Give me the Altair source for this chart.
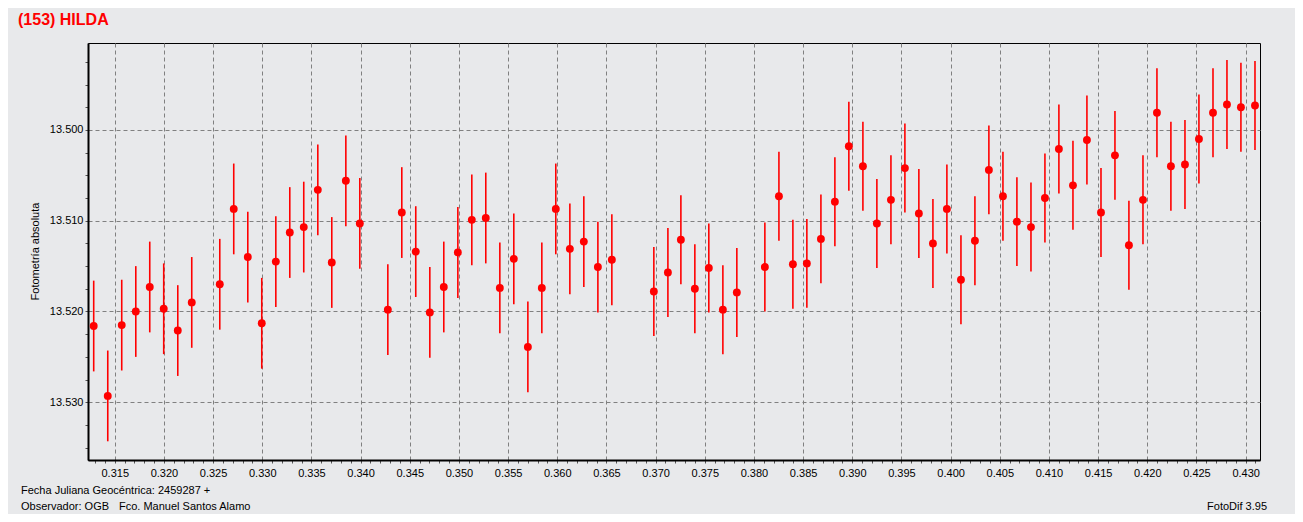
import altair as alt
import pandas as pd

# Fractional Julian date (JD - 2459287)
jd = [0.31286, 0.31429, 0.31571, 0.31714, 0.31856, 0.31998, 0.32141, 0.32283,
      0.32568, 0.32710, 0.32853, 0.32995, 0.33138, 0.33280, 0.33422, 0.33565,
      0.33707, 0.33850, 0.33992, 0.34277, 0.34419, 0.34561, 0.34704, 0.34846,
      0.34989, 0.35131, 0.35273, 0.35416, 0.35558, 0.35701, 0.35843, 0.35985,
      0.36128, 0.36270, 0.36413, 0.36555, 0.36982, 0.37125, 0.37257, 0.37399,
      0.37541, 0.37684, 0.37826, 0.38111, 0.38254, 0.38396, 0.38538, 0.38681,
      0.38823, 0.38965, 0.39108, 0.39250, 0.39393, 0.39535, 0.39677, 0.39820,
      0.39962, 0.40105, 0.40247, 0.40389, 0.40532, 0.40674, 0.40817, 0.40959,
      0.41101, 0.41244, 0.41386, 0.41529, 0.41671, 0.41813, 0.41956, 0.42098,
      0.42240, 0.42383, 0.42525, 0.42668, 0.42810, 0.42952, 0.43095]

# Absolute photometry (magnitude)
mag = [13.5216, 13.5293, 13.5215, 13.5200, 13.5173, 13.5197, 13.5221, 13.5190,
       13.5170, 13.5087, 13.5140, 13.5213, 13.5145, 13.5113, 13.5107, 13.5066,
       13.5146, 13.5056, 13.5103, 13.5198, 13.5091, 13.5134, 13.5201, 13.5173,
       13.5135, 13.5099, 13.5097, 13.5174, 13.5142, 13.5239, 13.5174, 13.5087,
       13.5131, 13.5123, 13.5151, 13.5143, 13.5178, 13.5157, 13.5121, 13.5175,
       13.5152, 13.5198, 13.5179, 13.5151, 13.5073, 13.5148, 13.5147, 13.5120,
       13.5079, 13.5018, 13.5040, 13.5103, 13.5077, 13.5042, 13.5092, 13.5125,
       13.5087, 13.5165, 13.5122, 13.5044, 13.5073, 13.5101, 13.5107, 13.5075,
       13.5021, 13.5061, 13.5011, 13.5091, 13.5028, 13.5127, 13.5077, 13.4981,
       13.5040, 13.5038, 13.5010, 13.4981, 13.4972, 13.4975, 13.4973]

# Error (half length of each bar)
err = [0.0050] * 36 + [0.0049] * 43

x_ticks = [round(0.313 + i * 0.001, 3) for i in range(119)]
y_ticks = [round(13.4925 + i * 0.0025, 4) for i in range(18)]

title_text = "(153) HILDA"
ytitle_text = "Fotometría absoluta"
foot1 = "Fecha Juliana Geocéntrica: 2459287 +"
foot2a = "Observador: OGB"
foot2b = "Fco. Manuel Santos Alamo"
foot3 = "FotoDif 3.95"

df = pd.DataFrame({"jd": jd, "mag": mag, "err": err})
df["lo"] = df["mag"] - df["err"]
df["hi"] = df["mag"] + df["err"]

FONT = "Liberation Sans"
BG = "#e8e9eb"
W, H = 1172, 417

xs = alt.Scale(domain=[0.31228, 0.43146], nice=False, zero=False)
ys = alt.Scale(domain=[13.49042, 13.53636], nice=False, zero=False, reverse=True)

xmaj = "abs(datum.value*200 - round(datum.value*200)) < 0.05"
ymaj = "abs(datum.value*100 - round(datum.value*100)) < 0.05"

xaxis = alt.Axis(
    values=x_ticks, title=None,
    labelExpr=f"{xmaj} ? format(datum.value, '.3f') : ''",
    labelFont=FONT, labelFontSize=11, labelColor="black", labelPadding=4,
    labelFlush=False, labelOverlap=False,
    grid=True, gridColor="#808080", gridDash=[4, 3], gridWidth=1,
    gridOpacity={"condition": {"test": xmaj, "value": 1}, "value": 0},
    domainColor="black", domainWidth=2,
    tickColor="#555555", tickSize=3, tickWidth=1,
)
yaxis = alt.Axis(
    values=y_ticks, title=None,
    labelExpr=f"{ymaj} ? format(datum.value, '.3f') : ''",
    labelFont=FONT, labelFontSize=11, labelColor="black", labelPadding=2,
    labelFlush=False, labelOverlap=False,
    grid=True, gridColor="#808080", gridDash=[4, 3], gridWidth=1,
    gridOpacity={"condition": {"test": ymaj, "value": 1}, "value": 0},
    domainColor="black", domainWidth=2,
    tickColor="#555555", tickSize=3, tickWidth=1,
)

bars = alt.Chart(df).mark_rule(color="#ff0000", strokeWidth=1.6).encode(
    x=alt.X("jd:Q", scale=xs, axis=xaxis),
    y=alt.Y("lo:Q", scale=ys, axis=yaxis),
    y2="hi:Q",
)
points = alt.Chart(df).mark_circle(color="#ff0000", size=62, opacity=1).encode(
    x=alt.X("jd:Q", scale=xs, axis=xaxis),
    y=alt.Y("mag:Q", scale=ys, axis=yaxis),
)


def label(text, x, y, size=11, weight="normal", color="black", align="left", angle=0,
          baseline="alphabetic"):
    return alt.Chart(pd.DataFrame({"t": [text]})).mark_text(
        align=align, baseline=baseline, font=FONT, fontSize=size,
        fontWeight=weight, color=color, angle=angle,
    ).encode(x=alt.value(x), y=alt.value(y), text="t:N")


t_title = label(title_text, -70, -18, size=16, weight="bold", color="#ff0000")
t_ytitle = label(ytitle_text, -52, 208.5, angle=270, align="center", baseline="middle")
t_f1 = label(foot1, -67, 451)
t_f2a = label(foot2a, -67, 467)
t_f2b = label(foot2b, 31, 467)
t_f3 = label(foot3, 1179, 467, align="right")

chart = alt.layer(bars, points, t_title, t_ytitle, t_f1, t_f2a, t_f2b, t_f3).properties(
    width=W, height=H,
    padding={"left": 80, "top": 35, "right": 35, "bottom": 54},
    autosize=alt.AutoSizeParams(type="none"),
    background=BG,
).configure_view(stroke="black", strokeWidth=1)

chart.save("out.html", embed_options={"renderer": "svg", "actions": False})
